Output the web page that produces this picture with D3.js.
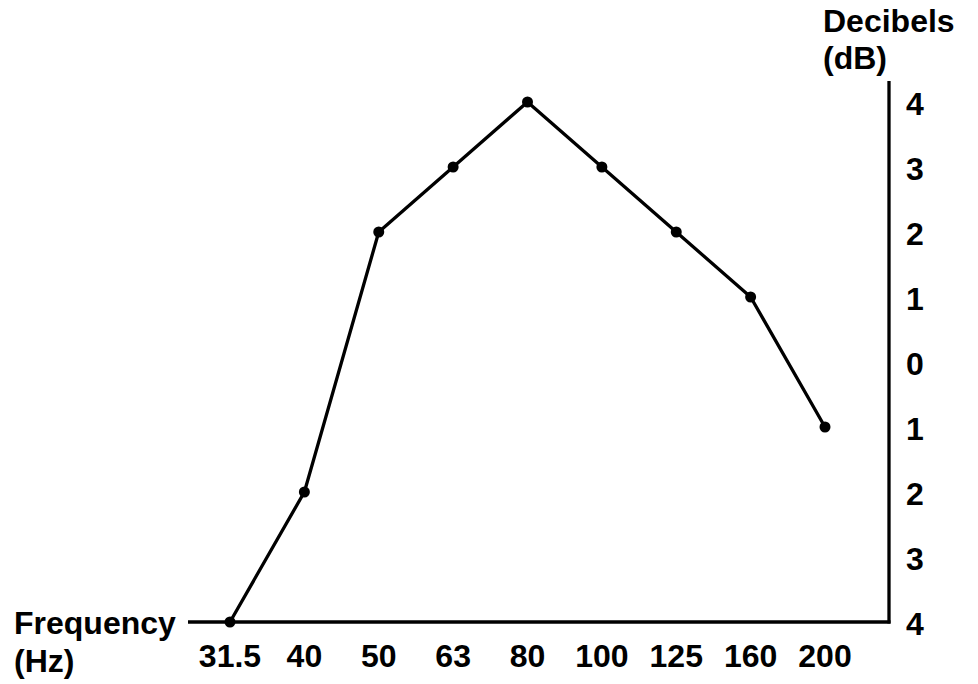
<!DOCTYPE html>
<html>
<head>
<meta charset="utf-8">
<script src="https://cdn.jsdelivr.net/npm/d3@7"></script>
<style>
  html, body { margin: 0; padding: 0; background: #fff; }
  text { font-family: "Liberation Sans", Arial, Helvetica, sans-serif; font-weight: bold; fill: #000; }
</style>
</head>
<body>
<svg id="chart" width="978" height="684"></svg>
<script>
const categories = ["31.5", "40", "50", "63", "80", "100", "125", "160", "200"];
const values = [-4, -2, 2, 3, 4, 3, 2, 1, -1];
const yTicks = [4, 3, 2, 1, 0, -1, -2, -3, -4];
const xTitle = ["Frequency", "(Hz)"];
const yTitle = ["Decibels", "(dB)"];

const svg = d3.select("#chart");
const axisX = 889, axisY = 622;

const x = d3.scalePoint().domain(categories).range([230, 825]).padding(0);
const y = d3.scaleLinear().domain([-4, 4]).range([622, 102]);

const fs = 32;

// axes lines
svg.append("line")
  .attr("x1", 188).attr("x2", axisX + 1.5)
  .attr("y1", axisY).attr("y2", axisY)
  .attr("stroke", "#000").attr("stroke-width", 3.3);
svg.append("line")
  .attr("x1", axisX).attr("x2", axisX)
  .attr("y1", 81).attr("y2", axisY + 1.6)
  .attr("stroke", "#000").attr("stroke-width", 3.3);

// x tick labels
svg.append("g").selectAll("text").data(categories).join("text")
  .attr("x", d => x(d))
  .attr("y", 667)
  .attr("text-anchor", "middle")
  .attr("font-size", fs)
  .text(d => d);

// y tick labels (shown without sign)
svg.append("g").selectAll("text").data(yTicks).join("text")
  .attr("x", 915)
  .attr("y", d => y(d) + 12.5)
  .attr("text-anchor", "middle")
  .attr("font-size", fs)
  .text(d => Math.abs(d));

// titles
svg.append("text").attr("x", 14).attr("y", 634).attr("font-size", fs).text(xTitle[0]);
svg.append("text").attr("x", 14).attr("y", 672).attr("font-size", fs).text(xTitle[1]);
svg.append("text").attr("x", 823).attr("y", 32).attr("font-size", fs).text(yTitle[0]);
svg.append("text").attr("x", 823).attr("y", 69).attr("font-size", fs).text(yTitle[1]);

// line
const data = categories.map((c, i) => ({c, v: values[i]}));
svg.append("path")
  .datum(data)
  .attr("fill", "none")
  .attr("stroke", "#000")
  .attr("stroke-width", 3.3)
  .attr("stroke-linejoin", "round")
  .attr("d", d3.line().x(d => x(d.c)).y(d => y(d.v)));

svg.append("g").selectAll("circle").data(data).join("circle")
  .attr("cx", d => x(d.c))
  .attr("cy", d => y(d.v))
  .attr("r", 5.5)
  .attr("fill", "#000");
</script>
</body>
</html>
